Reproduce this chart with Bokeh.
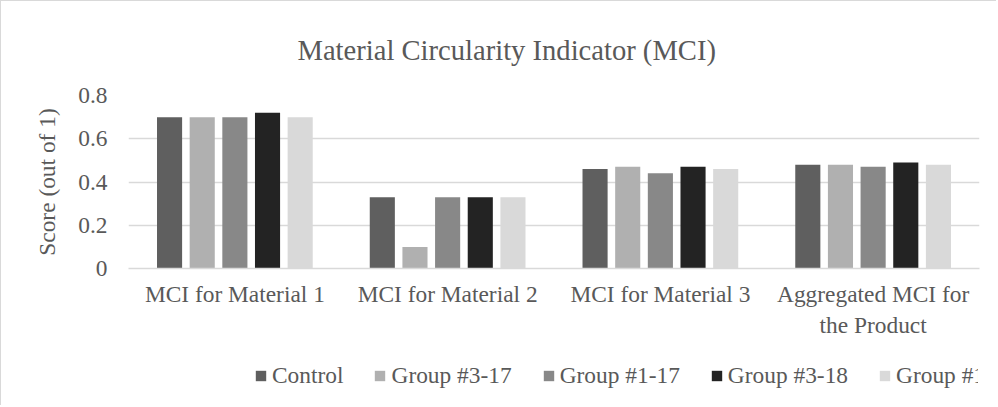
from bokeh.plotting import figure
from bokeh.layouts import column
from bokeh.models import (FactorRange, Range1d, FixedTicker, Legend, LegendItem,
                          ColumnDataSource)
from bokeh.transform import dodge
from bokeh.embed import file_html
from bokeh.resources import INLINE

# ---- data ----
categories = ["MCI for Material 1", "MCI for Material 2", "MCI for Material 3",
              "Aggregated MCI for\nthe Product"]
series_names = ["Control", "Group #3-17", "Group #1-17", "Group #3-18", "Group #1-18"]
control = [0.70, 0.33, 0.46, 0.48]
group_3_17 = [0.70, 0.10, 0.47, 0.48]
group_1_17 = [0.70, 0.33, 0.44, 0.47]
group_3_18 = [0.72, 0.33, 0.47, 0.49]
group_1_18 = [0.70, 0.33, 0.46, 0.48]
y_ticks = [0, 0.2, 0.4, 0.6, 0.8]
y_tick_labels = ["0", "0.2", "0.4", "0.6", "0.8"]
title_text = "Material Circularity Indicator (MCI)"
y_axis_title = "Score (out of 1)"

# ---- styles ----
colors = ["#5f5f5f", "#b0b0b0", "#888888", "#232323", "#d9d9d9"]
offsets = [-0.307, -0.1535, 0.0, 0.1535, 0.307]
bar_width = 0.118
FONT = "Liberation Serif"
TXT = "#595959"
FS = "23.4px"

series = [control, group_3_17, group_1_17, group_3_18, group_1_18]
cols = ["s%d" % i for i in range(len(series))]
data = {"cat": categories}
for c, s in zip(cols, series):
    data[c] = s
src = ColumnDataSource(data)

xr = FactorRange(*categories)

p = figure(x_range=xr, y_range=Range1d(0, 0.8),
           frame_width=850, frame_height=172, output_backend="svg", toolbar_location=None,
           min_border_left=127, min_border_right=18, min_border_top=94,
           min_border_bottom=70)
p.outline_line_color = None
p.background_fill_color = "white"
p.border_fill_color = "white"
p.styles = {"border-left": "1px solid #d9d9d9", "border-top": "1px solid #d9d9d9"}

p.title.text = title_text
p.title.text_font = FONT
p.title.text_font_size = "28.6px"
p.title.text_font_style = "normal"
p.title.text_color = TXT
p.title.align = "left"
p.title.offset = 169
p.title.standoff = 59

for i, c in enumerate(cols):
    p.vbar(x=dodge("cat", offsets[i], range=xr), top=c, width=bar_width,
           source=src, fill_color=colors[i], line_color=None)

p.xgrid.grid_line_color = None
p.ygrid.grid_line_color = "#d9d9d9"
p.ygrid.grid_line_width = 1.3

xa = p.xaxis[0]
xa.axis_line_color = "#d9d9d9"
xa.axis_line_width = 1.3
xa.major_tick_line_color = None
xa.minor_tick_line_color = None
xa.major_label_standoff = 6
xa.major_label_text_font = FONT
xa.major_label_text_font_size = FS
xa.major_label_text_color = TXT

ya = p.yaxis[0]
ya.ticker = FixedTicker(ticks=y_ticks)
ya.major_label_overrides = dict(zip(y_ticks, y_tick_labels))
ya.axis_line_color = None
ya.major_tick_line_color = None
ya.minor_tick_line_color = None
ya.major_label_standoff = 15
ya.major_label_text_font = FONT
ya.major_label_text_font_size = FS
ya.major_label_text_color = TXT
ya.axis_label = y_axis_title
ya.axis_label_text_font = FONT
ya.axis_label_text_font_size = FS
ya.axis_label_text_font_style = "normal"
ya.axis_label_text_color = TXT
ya.axis_label_standoff = 15

# ---- legend strip below the chart (same series, its view shows only the legend) ----
p2 = figure(x_range=xr, y_range=Range1d(10, 11), width=995, height=66,
            output_backend="svg", toolbar_location=None,
            x_axis_location=None, y_axis_location=None, min_border=0)
p2.outline_line_color = None
p2.background_fill_color = "white"
p2.border_fill_color = "white"
p2.grid.visible = False
p2.styles = {"border-left": "1px solid #d9d9d9"}

leg_renderers = []
for i, c in enumerate(cols):
    r = p2.vbar(x=dodge("cat", offsets[i], range=xr), top=c, width=bar_width,
                source=src, fill_color=colors[i], line_color=None)
    leg_renderers.append(r)

legend = Legend(items=[LegendItem(label=n, renderers=[r]) for n, r in zip(series_names, leg_renderers)],
                orientation="horizontal", location=(126, 16),
                glyph_width=13, glyph_height=13, label_standoff=5, spacing=30,
                padding=0, margin=0, border_line_color=None, background_fill_alpha=0,
                label_text_font=FONT, label_text_font_size=FS, label_text_color=TXT)
p2.add_layout(legend, "center")

layout = column(p, p2, spacing=0)

open("out.html", "w").write(file_html(layout, INLINE))
